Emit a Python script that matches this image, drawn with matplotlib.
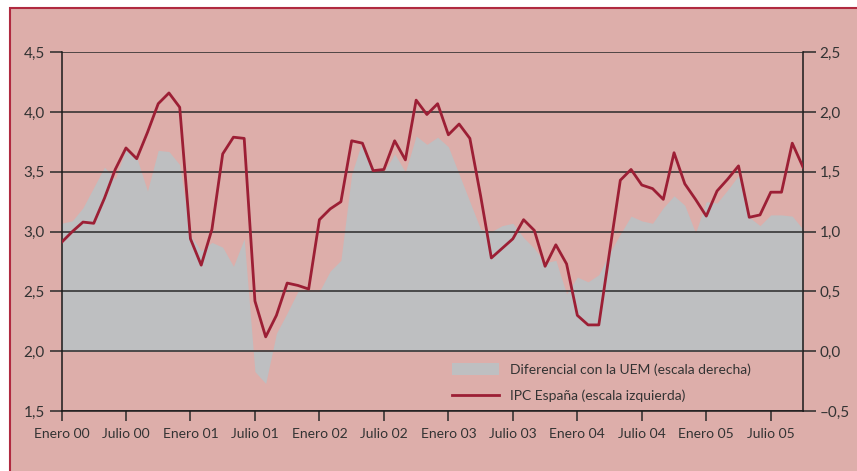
import matplotlib.pyplot as plt
from matplotlib.patches import Rectangle, Patch
from matplotlib.lines import Line2D
from matplotlib.ticker import FuncFormatter

plt.rcParams['font.family'] = ['Lato', 'DejaVu Sans']

# monthly, Enero 00 .. Octubre 05
ipc = [2.91, 3.00, 3.08, 3.07, 3.28, 3.52, 3.70, 3.61, 3.83, 4.07, 4.16, 4.04,
       2.94, 2.72, 3.02, 3.65, 3.79, 3.78, 2.42, 2.12, 2.30, 2.57, 2.55, 2.52,
       3.10, 3.19, 3.25, 3.76, 3.74, 3.51, 3.52, 3.76, 3.60, 4.10, 3.98, 4.07,
       3.81, 3.90, 3.78, 3.30, 2.78, 2.86, 2.94, 3.10, 3.01, 2.71, 2.89, 2.73,
       2.30, 2.22, 2.22, 2.83, 3.43, 3.52, 3.39, 3.36, 3.27, 3.66, 3.40, 3.27,
       3.13, 3.34, 3.44, 3.55, 3.12, 3.14, 3.33, 3.33, 3.74, 3.54]
diferencial = [1.07, 1.09, 1.20, 1.37, 1.54, 1.44, 1.69, 1.62, 1.34, 1.68, 1.67, 1.56,
               0.97, 0.84, 0.91, 0.87, 0.71, 0.94, -0.17, -0.27, 0.15, 0.32, 0.50, 0.50,
               0.50, 0.67, 0.76, 1.48, 1.76, 1.50, 1.50, 1.65, 1.50, 1.80, 1.73, 1.79,
               1.71, 1.48, 1.25, 1.02, 1.00, 1.05, 1.07, 0.95, 0.86, 0.74, 0.76, 0.48,
               0.62, 0.58, 0.64, 0.82, 0.98, 1.13, 1.09, 1.07, 1.20, 1.30, 1.22, 0.99,
               1.25, 1.24, 1.35, 1.47, 1.12, 1.05, 1.14, 1.14, 1.13, 1.02]
meses = list(range(len(ipc)))
etiquetas = ['Enero 00', 'Julio 00', 'Enero 01', 'Julio 01', 'Enero 02', 'Julio 02',
             'Enero 03', 'Julio 03', 'Enero 04', 'Julio 04', 'Enero 05', 'Julio 05']
pos_etiquetas = [6 * i for i in range(len(etiquetas))]

rosa = '#ddaeaa'
rojo = '#9c1f35'
gris = '#bebfc1'
texto = '#333333'

fig = plt.figure(figsize=(8.57, 4.71), dpi=100)
fig.patch.set_facecolor('white')
fig.patches.append(Rectangle((10 / 857, -0.1), 1.2, 0.1 + 1 - 8 / 471,
                             transform=fig.transFigure, facecolor=rosa,
                             edgecolor='#b02a40', linewidth=1.5, zorder=-10))

ax = fig.add_axes([61.5 / 857, 1 - 411 / 471, (803 - 61.5) / 857, (411 - 52.3) / 471])
ax2 = ax.twinx()
ax2.set_zorder(1)
ax.set_zorder(2)
ax.patch.set_visible(False)
ax2.patch.set_visible(False)

ax2.fill_between(meses, 0, diferencial, color=gris, linewidth=0)
ax.plot(meses, ipc, color=rojo, linewidth=2.0, zorder=3)

ax.set_xlim(0, len(ipc) - 1)
ax.set_ylim(1.5, 4.5)
ax2.set_ylim(-0.5, 2.5)
ax.set_yticks([1.5, 2.0, 2.5, 3.0, 3.5, 4.0, 4.5])
ax2.set_yticks([-0.5, 0.0, 0.5, 1.0, 1.5, 2.0, 2.5])
coma = FuncFormatter(lambda v, p: ('%.1f' % v).replace('.', ',').replace('-', '\u2013'))
ax.yaxis.set_major_formatter(coma)
ax2.yaxis.set_major_formatter(coma)
ax.set_xticks(pos_etiquetas)
ax.set_xticklabels(etiquetas)

ax.set_axisbelow(True)
ax.yaxis.grid(True, color='#2a2a2a', linewidth=1.1)
ax.xaxis.grid(False)

for a in (ax, ax2):
    for s in a.spines.values():
        s.set_visible(False)
ax.spines['left'].set_visible(True)
ax.spines['bottom'].set_visible(True)
ax2.spines['right'].set_visible(True)
for s in (ax.spines['left'], ax.spines['bottom'], ax2.spines['right']):
    s.set_color('#1a1a1a')
    s.set_linewidth(1.1)

ax.tick_params(axis='y', direction='out', length=9, width=1.1, color='#2a2a2a',
               labelsize=11, labelcolor=texto, pad=3)
ax2.tick_params(axis='y', direction='out', length=9, width=1.1, color='#2a2a2a',
                labelsize=11, labelcolor=texto, pad=3)
ax.tick_params(axis='x', direction='out', length=7, width=1.1, color='#2a2a2a',
               labelsize=10, labelcolor=texto, pad=5)

handles = [Patch(facecolor=gris, edgecolor='none'),
           Line2D([], [], color=rojo, linewidth=2.0)]
ax.legend(handles, ['Diferencial con la UEM (escala derecha)', 'IPC España (escala izquierda)'],
          loc='lower left', bbox_to_anchor=(0.51, -0.01), frameon=False,
          fontsize=10, handlelength=3.4, handleheight=0.9, handletextpad=0.8,
          labelspacing=1.0, labelcolor=texto)

fig.savefig('out.png', dpi=100)
